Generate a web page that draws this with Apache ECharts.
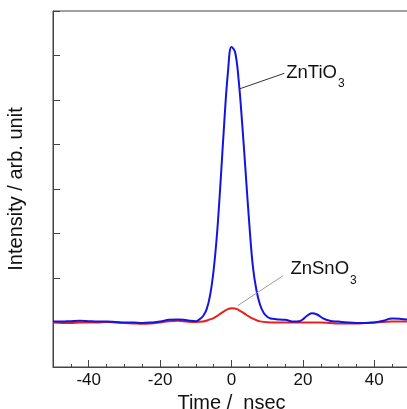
<!DOCTYPE html>
<html>
<head>
<meta charset="utf-8">
<script src="https://cdn.jsdelivr.net/npm/echarts@6/dist/echarts.min.js"></script>
<style>
  html, body { margin: 0; padding: 0; background: #fff; }
  #box1 { width: 407px; height: 409px; }
</style>
</head>
<body>
<div id="box1"></div>
<script>
// time axis (nsec)
var majorTicks = [-40, -20, 0, 20, 40];

// ZnTiO3 trace
var tiTime = [-50, -47.5, -45, -42.5, -40, -37.5, -35, -32.5, -30, -27.5, -25, -22.5, -20, -17.5, -15, -12.5, -10,
  -9, -8, -7, -6, -5, -4, -3, -2, -1, 0, 1, 2, 3, 4, 5, 6, 7, 8, 9, 10, 11, 12, 13.5, 15, 17.5, 19, 20, 21,
  22.5, 24, 25.5, 27.5, 30, 32.5, 35, 37.5, 40, 42.5, 45, 47.5, 50];
var tiValue = [0.02, 0.02, 0.03, 0.04, 0.03, 0.02, 0.02, 0.01, 0.0, 0.0, -0.01, 0.0, 0.02, 0.06, 0.07, 0.05, 0.03,
  0.07, 0.14, 0.29, 0.61, 1.18, 2.05, 3.24, 4.53, 5.62, 6.19, 6.08, 5.45, 4.46, 3.33, 2.2, 1.25, 0.72, 0.4, 0.22,
  0.13, 0.09, 0.08, 0.065, 0.06, 0.02, 0.03, 0.07, 0.14, 0.21, 0.18, 0.1, 0.04, 0.02, 0.0, -0.01, -0.01, 0.0,
  0.04, 0.09, 0.08, 0.06];

// ZnSnO3 trace
var snTime = [-50, -47.5, -45, -42.5, -40, -37.5, -35, -32.5, -30, -27.5, -25, -22.5, -20, -17.5, -15, -12.5, -10,
  -8, -6, -5, -4, -3, -2, -1, 0, 1, 2, 3, 4, 5, 6, 7, 8, 10, 12.5, 15, 17.5, 20, 22.5, 25, 27.5, 30, 32.5, 35,
  37.5, 40, 42.5, 45, 47.5, 50];
var snValue = [0.0, -0.01, -0.01, 0.0, 0.0, 0.0, 0.01, 0.0, -0.01, -0.02, -0.03, -0.02, 0.0, 0.03, 0.04, 0.02, 0.01,
  0.02, 0.07, 0.1, 0.15, 0.205, 0.258, 0.3, 0.32, 0.315, 0.28, 0.235, 0.18, 0.13, 0.085, 0.05, 0.025, 0.005, 0.0,
  0.0, 0.0, 0.0, 0.0, 0.0, -0.01, -0.02, -0.02, -0.02, -0.01, 0.0, 0.01, 0.02, 0.02, 0.02];

// annotation leader lines [start, end] in data units
var tiLeader = [[2.24, 5.25], [14.8, 5.6]];
var snLeader = [[1.76, 0.38], [14.4, 1.05]];

function pairs(xs, ys) {
  return xs.map(function (x, i) { return [x, ys[i]]; });
}

var dom = document.getElementById("box1");
var myChart = echarts.init(dom);
var font = 'Liberation Sans, Arial, sans-serif';
var axisColor = '#444';

var subRich = {
  a: { fontSize: 18.5, fontFamily: font, color: '#111', lineHeight: 20 },
  s: { fontSize: 12, fontFamily: font, color: '#111', lineHeight: 12, padding: [22, 0, 0, 1] }
};

option = {
  animation: false,
  grid: {
    left: 53, right: -3, top: 11, bottom: 42,
    outerBoundsMode: 'none',
    show: true, borderColor: axisColor, borderWidth: 1
  },
  xAxis: [
    {
      // minor ticks every 5
      type: 'value', min: -50, max: 50, interval: 5,
      axisLine: { show: true, onZero: false, lineStyle: { color: axisColor } },
      axisTick: { show: true, inside: true, length: 3, lineStyle: { color: axisColor } },
      axisLabel: { show: false },
      splitLine: { show: false }
    },
    {
      type: 'value', min: -50, max: 50, position: 'bottom',
      axisLine: { show: false, onZero: false },
      axisTick: { show: true, inside: true, length: 7, customValues: majorTicks, lineStyle: { color: axisColor } },
      axisLabel: { show: true, customValues: majorTicks, fontSize: 17, fontFamily: font, color: '#111', margin: 5 },
      splitLine: { show: false },
      name: 'Time /  nsec', nameLocation: 'middle', nameGap: 22,
      nameTextStyle: { fontSize: 20, fontFamily: font, color: '#111' }
    }
  ],
  yAxis: {
    type: 'value', min: -1, max: 7, interval: 1,
    axisLine: { show: true, onZero: false, lineStyle: { color: axisColor } },
    axisTick: { show: true, inside: true, length: 7, lineStyle: { color: axisColor } },
    axisLabel: { show: false },
    splitLine: { show: false },
    name: 'Intensity / arb. unit', nameLocation: 'middle', nameGap: 27,
    nameTextStyle: { fontSize: 20, fontFamily: font, color: '#111' }
  },
  series: [
    {
      name: 'ZnSnO3', type: 'line', smooth: 0.4, showSymbol: false,
      data: pairs(snTime, snValue),
      lineStyle: { color: '#e8201c', width: 2 },
      markLine: {
        silent: true, symbol: 'none', animation: false,
        lineStyle: { color: '#9a9a9a', width: 1, type: 'solid' },
        label: {
          show: true, position: 'end', distance: 9, padding: [0, 0, 3, 0],
          formatter: '{a|ZnSnO}{s|3}', rich: subRich
        },
        data: [[{ coord: snLeader[0] }, { coord: snLeader[1] }]]
      }
    },
    {
      name: 'ZnTiO3', type: 'line', smooth: 0.4, showSymbol: false,
      data: pairs(tiTime, tiValue),
      lineStyle: { color: '#1414e0', width: 2 },
      markLine: {
        silent: true, symbol: 'none', animation: false,
        lineStyle: { color: '#333', width: 1, type: 'solid' },
        label: {
          show: true, position: 'end', distance: 2,
          formatter: '{a|ZnTiO}{s|3}', rich: subRich
        },
        data: [[{ coord: tiLeader[0] }, { coord: tiLeader[1] }]]
      }
    }
  ]
};

if (option && typeof option === 'object') {
  myChart.setOption(option);
}
</script>
</body>
</html>
